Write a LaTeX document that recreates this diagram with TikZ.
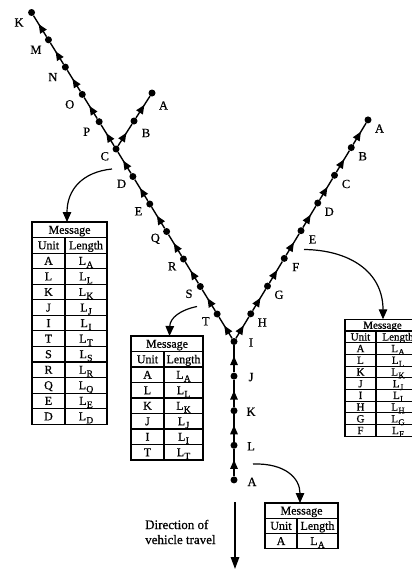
\documentclass[tikz,border=0pt]{standalone}
\usepackage{fontspec}
\setmainfont{Liberation Serif}[FakeBold=0.6]
\usetikzlibrary{arrows.meta,decorations.markings}
\newcommand{\Ls}[1]{L\kern0.3pt\raisebox{-0.55ex}{\scalebox{0.8}{#1}}}
\tikzset{
  dot/.style={circle,fill=black,inner sep=0pt,minimum size=7pt},
  seg/.style={line width=1.4pt,postaction={decorate},
    decoration={markings,mark=at position 0.6 with {\arrow{Triangle[width=7.5pt,length=9pt]}}}},
  lab/.style={font=\fontsize{12.5}{12.5}\selectfont,inner sep=0pt},
  callout/.style={line width=1.2pt,-{Triangle[width=8.5pt,length=10pt]}},
  tbl/.style={line width=1.1pt},
  cell/.style={inner sep=0pt,anchor=base}
}
% #1 prefix, #2 left, #3 top, #4 split, #5 right, #6 row height, #7 font size, #8 units
\newcommand{\msgtab}[8]{%
  \begin{scope}[font=\fontsize{#7}{#7}\selectfont]
    \draw[tbl] (#2,#3) rectangle (#5,{#3+#6});
    \node[cell] (#1-h) at ({(#2+#5)/2},{#3+0.5*#6+0.33*#7}) {Message};
    \draw[tbl] (#2,{#3+#6}) rectangle (#5,{#3+2*#6});
    \draw[tbl] (#4,{#3+#6}) -- (#4,{#3+2*#6});
    \node[cell] (#1-u) at ({(#2+#4)/2},{#3+1.5*#6+0.33*#7}) {Unit};
    \node[cell] (#1-l) at ({(#4+#5)/2},{#3+1.5*#6+0.33*#7}) {Length};
    \foreach \u [count=\i] in {#8} {
      \draw[tbl] (#2,{#3+(\i+1)*#6}) rectangle (#5,{#3+(\i+2)*#6});
      \draw[tbl] (#4,{#3+(\i+1)*#6}) -- (#4,{#3+(\i+2)*#6});
      \node[cell] (#1-u\i) at ({(#2+#4)/2},{#3+(\i+1.5)*#6+0.33*#7}) {\u};
      \node[cell] (#1-s\i) at ({(#4+#5)/2},{#3+(\i+1.5)*#6+0.33*#7}) {\Ls{\u}};
    }
  \end{scope}}
\begin{document}
\begin{tikzpicture}[x=1pt,y=-1pt]
\useasboundingbox (0,0) rectangle (412,570);
\clip (0,0) rectangle (412,570);

% trunk
\node[dot] (I) at (234,341.5) {};
\node[dot] (J) at (234,376.1) {};
\node[dot] (K) at (234,410.7) {};
\node[dot] (L) at (234,445.3) {};
\node[dot] (A) at (234,479.9) {};
% right branch
\node[dot] (rH) at (250.75,313.8) {};
\node[dot] (rG) at (267.5,286.1) {};
\node[dot] (rF) at (284.25,258.4) {};
\node[dot] (rE) at (301,230.7) {};
\node[dot] (rD) at (317.75,203) {};
\node[dot] (rC) at (334.5,175.3) {};
\node[dot] (rB) at (351.25,147.6) {};
\node[dot] (rA) at (368,119.9) {};
% left branch
\node[dot] (lT) at (217.15,314) {};
\node[dot] (lS) at (200.3,286.5) {};
\node[dot] (lR) at (183.45,259) {};
\node[dot] (lQ) at (166.6,231.5) {};
\node[dot] (lE) at (149.75,204) {};
\node[dot] (lD) at (132.9,176.5) {};
\node[dot] (lC) at (116.05,149) {};
% upper left
\node[dot] (uP) at (99.15,121.7) {};
\node[dot] (uO) at (82.25,94.4) {};
\node[dot] (uN) at (65.35,67.1) {};
\node[dot] (uM) at (48.45,39.8) {};
\node[dot] (uK) at (31.55,12.5) {};
% upper right
\node[dot] (vB) at (134,121) {};
\node[dot] (vA) at (152,93) {};

% segments
\draw[seg] (A) -- (L);
\draw[seg] (L) -- (K);
\draw[seg] (K) -- (J);
\draw[seg] (J) -- (I);
\draw[seg] (I) -- (rH);
\draw[seg] (rH) -- (rG);
\draw[seg] (rG) -- (rF);
\draw[seg] (rF) -- (rE);
\draw[seg] (rE) -- (rD);
\draw[seg] (rD) -- (rC);
\draw[seg] (rC) -- (rB);
\draw[seg] (rB) -- (rA);
\draw[seg] (I) -- (lT);
\draw[seg] (lT) -- (lS);
\draw[seg] (lS) -- (lR);
\draw[seg] (lR) -- (lQ);
\draw[seg] (lQ) -- (lE);
\draw[seg] (lE) -- (lD);
\draw[seg] (lD) -- (lC);
\draw[seg] (lC) -- (uP);
\draw[seg] (uP) -- (uO);
\draw[seg] (uO) -- (uN);
\draw[seg] (uN) -- (uM);
\draw[seg] (uM) -- (uK);
\draw[seg] (lC) -- (vB);
\draw[seg] (vB) -- (vA);

% labels
\path (I) ++(17,1) node[lab] (tI) {I};
\path (J) ++(17,1) node[lab] (tJ) {J};
\path (K) ++(17,1) node[lab] (tK) {K};
\path (L) ++(17,1) node[lab] (tL) {L};
\path (A) ++(18,2) node[lab] (tA) {A};
\path (rH) ++(11.5,8.7) node[lab] (trH) {H};
\path (rG) ++(11.5,8.7) node[lab] (trG) {G};
\path (rF) ++(11.5,8.7) node[lab] (trF) {F};
\path (rE) ++(11.5,8.7) node[lab] (trE) {E};
\path (rD) ++(11.5,8.7) node[lab] (trD) {D};
\path (rC) ++(11.5,8.7) node[lab] (trC) {C};
\path (rB) ++(11.5,8.7) node[lab] (trB) {B};
\path (rA) ++(11.5,8.7) node[lab] (trA) {A};
\path (lT) ++(-11.3,7.3) node[lab] (tlT) {T};
\path (lS) ++(-11.3,7.3) node[lab] (tlS) {S};
\path (lR) ++(-11.3,7.3) node[lab] (tlR) {R};
\path (lQ) ++(-11.3,7.3) node[lab] (tlQ) {Q};
\path (lE) ++(-11.3,7.3) node[lab] (tlE) {E};
\path (lD) ++(-11.3,7.3) node[lab] (tlD) {D};
\path (lC) ++(-11.3,7.3) node[lab] (tlC) {C};
\path (uP) ++(-12.5,10) node[lab] (tuP) {P};
\path (uO) ++(-12.5,10) node[lab] (tuO) {O};
\path (uN) ++(-12.5,10) node[lab] (tuN) {N};
\path (uM) ++(-12.5,10) node[lab] (tuM) {M};
\path (uK) ++(-12.5,10) node[lab] (tuK) {K};
\path (vB) ++(12,12) node[lab] (tvB) {B};
\path (vA) ++(11.5,12.5) node[lab] (tvA) {A};

% tables
\msgtab{tC}{32}{222}{65}{107}{15.55}{12}{A,L,K,J,I,T,S,R,Q,E,D}
\msgtab{tT}{131}{336}{164}{203}{15.5}{12}{A,L,K,J,I,T}
\msgtab{tE}{345}{319.3}{376}{420}{11.7}{11}{A,L,K,J,I,H,G,F}
\msgtab{tA}{265}{503}{297}{338}{15.2}{12}{A}

% callout arrows
\coordinate (cC) at (112,169);
\coordinate (cCend) at (67,222);
\coordinate (cT) at (197,306.5);
\coordinate (cTend) at (169.5,336);
\coordinate (cE) at (304,249.5);
\coordinate (cEend) at (383,319.3);
\coordinate (cA) at (253,464);
\coordinate (cAend) at (300,503);
\draw[callout] (cC) .. controls (82,172) and (67,190) .. (cCend);
\draw[callout] (cT) .. controls (180,310) and (170,318) .. (cTend);
\draw[callout] (cE) .. controls (350,250) and (383,272) .. (cEend);
\draw[callout] (cA) .. controls (285,463) and (300,478) .. (cAend);

% direction of travel
\coordinate (dS) at (235,502);
\coordinate (dE) at (235,569);
\draw[line width=1.5pt,-{Triangle[width=8.5pt,length=12pt]}] (dS) -- (dE);
\node[align=left,anchor=west,inner sep=0pt,font=\fontsize{13}{15}\selectfont] (dtxt) at (145,532) {Direction of\\vehicle travel};
\end{tikzpicture}
\end{document}
